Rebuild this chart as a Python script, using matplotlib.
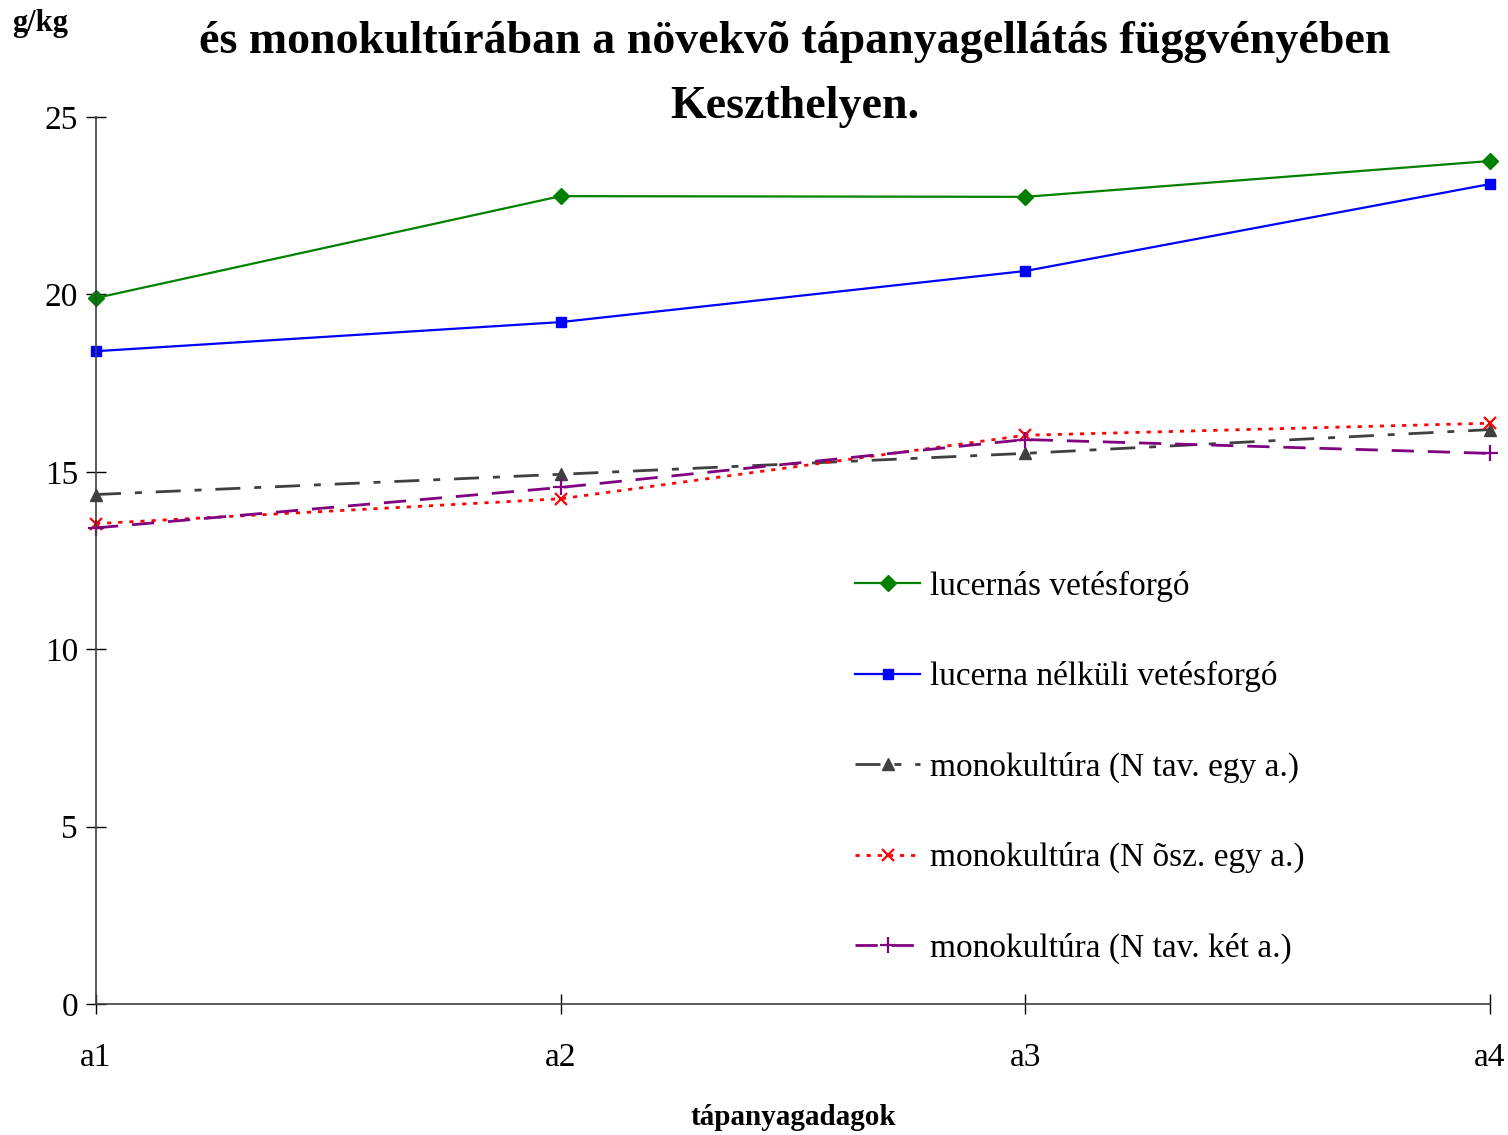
import matplotlib
matplotlib.use("Agg")
from matplotlib import pyplot as plt

# adatok
kategoriak = ["a1", "a2", "a3", "a4"]
lucernas = [19.9, 22.77, 22.75, 23.76]
lucerna_nelkul = [18.4, 19.22, 20.66, 23.11]
mono_tav_egy = [14.36, 14.93, 15.52, 16.19]
mono_osz_egy = [13.54, 14.24, 16.03, 16.37]
mono_tav_ket = [13.42, 14.56, 15.91, 15.52]

plt.rcParams['font.family'] = ['Liberation Serif', 'DejaVu Serif']

fig = plt.figure(figsize=(15.08, 11.35), dpi=100)
ax = fig.add_axes([0.0637, 0.1154, 0.9243, 0.7815])

x = range(len(kategoriak))

ax.plot(x, lucernas, color="#008000", lw=1.6, marker="D", ms=8,
        clip_on=False, label="lucernás vetésforgó")
ax.plot(x, lucerna_nelkul, color="#0000FF", lw=1.6, marker="s", ms=7.5,
        clip_on=False, label="lucerna nélküli vetésforgó")
ax.plot(x, mono_tav_egy, color="#404040", lw=2, marker="^", ms=9,
        dashes=(9, 5, 2.5, 5), clip_on=False,
        label="monokultúra (N tav. egy a.)")
ax.plot(x, mono_osz_egy, color="#FF0000", lw=2, marker="x", ms=8, mew=1.6,
        dashes=(1.5, 2.5), clip_on=False,
        label="monokultúra (N õsz. egy a.)")
ax.plot(x, mono_tav_ket, color="#800080", lw=2, marker="+", ms=11, mew=1.6,
        dashes=(8, 5), clip_on=False,
        label="monokultúra (N tav. két a.)")

ax.set_xlim(0, 3)
ax.set_ylim(0, 25)
ax.set_xticks(list(x))
ax.set_xticklabels(kategoriak)
ax.set_yticks([0, 5, 10, 15, 20, 25])

for s in ["top", "right"]:
    ax.spines[s].set_visible(False)
ax.spines["left"].set_color("#404040")
ax.spines["bottom"].set_color("#404040")
ax.spines["left"].set_linewidth(1.2)
ax.spines["bottom"].set_linewidth(1.2)
ax.tick_params(axis="both", direction="inout", length=14, width=1.0,
               labelsize=24, colors="black")
ax.tick_params(axis="x", pad=21)
ax.tick_params(axis="y", pad=6)

# cím és tengelyfeliratok
fig.text(0.527, 0.963, "és monokultúrában a növekvõ tápanyagellátás függvényében",
         ha="center", va="center", fontsize=33, fontweight="bold")
fig.text(0.527, 0.906, "Keszthelyen.", ha="center", va="center",
         fontsize=33, fontweight="bold")
fig.text(0.008, 0.979, "g/kg", ha="left", va="center", fontsize=22,
         fontweight="bold")
fig.text(0.526, 0.015, "tápanyagadagok", ha="center", va="center",
         fontsize=21, fontweight="bold")

leg = ax.legend(loc="upper left", bbox_to_anchor=(0.567, 0.497),
                bbox_transform=fig.transFigure, frameon=False, fontsize=24,
                labelspacing=1.78, handlelength=1.95, handletextpad=0.3,
                borderpad=0, borderaxespad=0)

plt.savefig("out.png", dpi=100)
